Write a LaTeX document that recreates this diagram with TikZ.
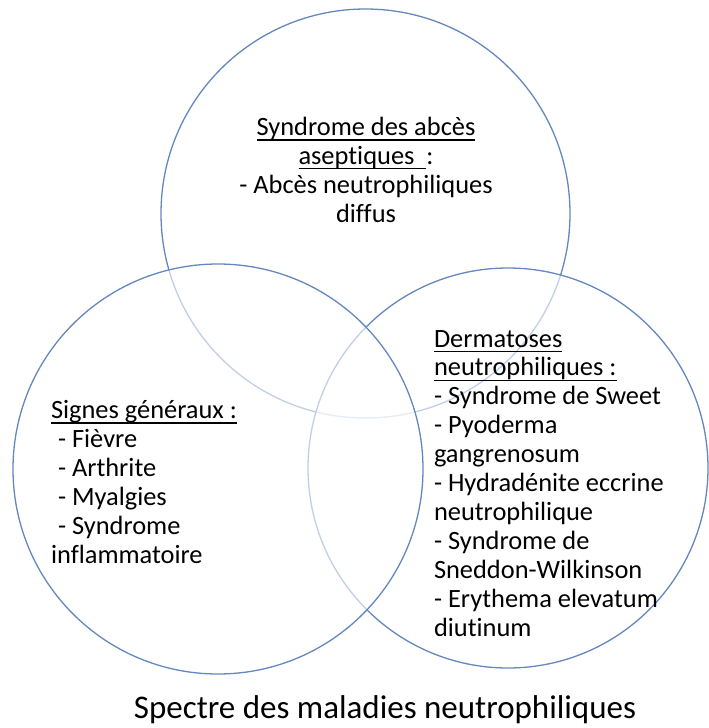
\documentclass[tikz,border=0pt]{standalone}
\usepackage{fontspec}
\setmainfont[Ligatures=NoCommon]{Carlito}
\definecolor{circ}{RGB}{100,135,190}
\newcommand\myul[1]{\setbox0\hbox{#1}\rlap{\rule[-0.2em]{\wd0}{0.05em}}\box0}
\begin{document}
\begin{tikzpicture}[x=1pt,y=-1pt,
  ring/.style={draw=circ, line width=1.3pt},
  veil/.style={fill=white, fill opacity=0.6},
  txt/.style={font=\fontsize{26.4}{28.9}\selectfont, inner sep=0pt, outer sep=0pt},
  title/.style={font=\fontsize{33}{38}\selectfont, inner sep=0pt}]
\useasboundingbox (0,0) rectangle (709,728);
% circles: top, right, left (later ones veil earlier arcs)
\draw[ring] (365.5,213.5) circle[radius=204.5pt];
\fill[veil] (508,468) circle[radius=200pt];
\draw[ring] (508,468) circle[radius=200pt];
\fill[veil] (218,469) circle[radius=205pt];
\draw[ring] (218,469) circle[radius=205pt];
% texts (base anchor = baseline of the last line)
\node[txt, align=center, anchor=base] (abces) at (366,222)
  {\myul{Syndrome des abcès}\\\myul{aseptiques\ \ }:\\- Abcès neutrophiliques\\diffus};
\node[txt, align=left, anchor=base west] (signes) at (51,563)
  {\myul{Signes généraux :}\\\hspace{7pt}- Fièvre\\\hspace{7pt}- Arthrite\\\hspace{7pt}- Myalgies\\\hspace{7pt}- Syndrome\\inflammatoire};
\node[txt, align=left, anchor=base west] (dermato) at (434,636)
  {\myul{Dermatoses}\\\myul{neutrophiliques :}\\- Syndrome de Sweet\\- Pyoderma\\gangrenosum\\- Hydradénite eccrine\\neutrophilique\\- Syndrome de\\Sneddon-Wilkinson\\- Erythema elevatum\\diutinum};
\node[title, anchor=base] (spectre) at (385,718) {Spectre des maladies neutrophiliques};
\end{tikzpicture}
\end{document}
